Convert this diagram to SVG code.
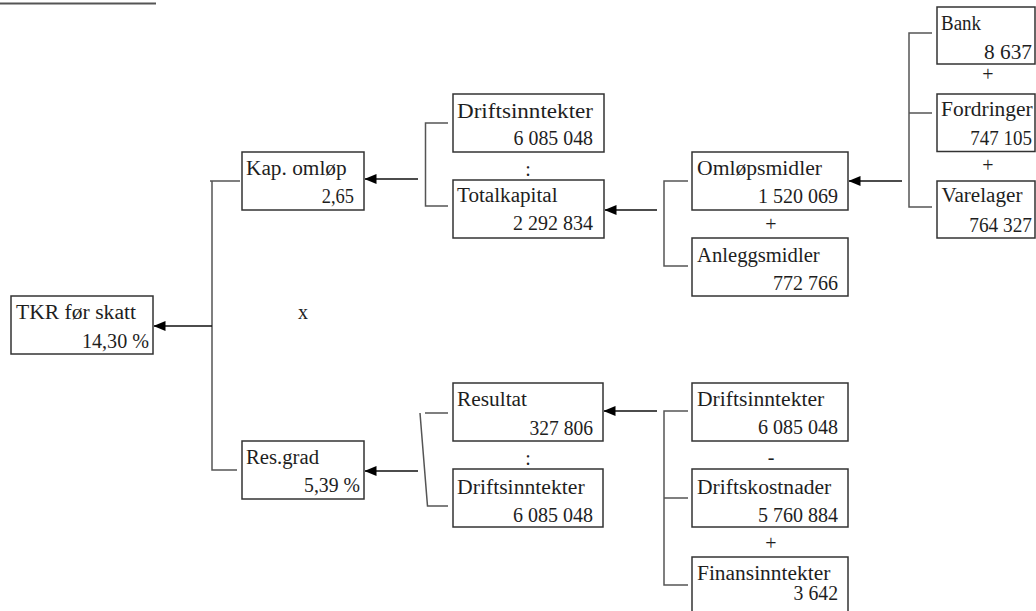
<svg xmlns="http://www.w3.org/2000/svg" width="1036" height="611" viewBox="0 0 1036 611">
<style>
.box{fill:#fff;stroke:#333;stroke-width:1.5}
.t{font-family:"Liberation Serif","DejaVu Serif","Times New Roman",serif;font-size:20px;fill:#1e1e1e}
.e{text-anchor:end}
.op{font-family:"Liberation Serif","DejaVu Serif","Times New Roman",serif;font-size:20px;fill:#1e1e1e;text-anchor:middle}
.br{fill:none;stroke:#555;stroke-width:1.5}
.ar{fill:none;stroke:#111;stroke-width:1.3;marker-end:url(#ah)}
</style>
<defs>
<marker id="ah" viewBox="0 0 12 10" refX="11.5" refY="5" markerWidth="12" markerHeight="10" markerUnits="userSpaceOnUse" orient="auto">
<path d="M0,0 L12,5 L0,10 Z" fill="#000"/>
</marker>
</defs>
<rect width="1036" height="611" fill="#fff"/>
<line x1="0" y1="3.5" x2="156" y2="3.5" stroke="#555" stroke-width="2"/>

<g id="connectors">
<path class="br" d="M210,181 H240 M212,181 V470 H237"/>
<line class="ar" x1="212" y1="326" x2="154" y2="326"/>
<path class="br" d="M448,123 H425.5 V206 H448"/>
<line class="ar" x1="418" y1="179" x2="365" y2="179"/>
<path class="br" d="M688,181 H664 V266 H688"/>
<line class="ar" x1="657" y1="210" x2="605" y2="210"/>
<path class="br" d="M932,33 H909 V207 H932 M909,113 H932"/>
<line class="ar" x1="902" y1="181" x2="849" y2="181"/>
<path class="br" d="M420,413 L427.5,506 H448 M425,413 H448"/>
<line class="ar" x1="418" y1="471" x2="365" y2="471"/>
<path class="br" d="M688,411 H664 V585 H688 M664,498 H688"/>
<line class="ar" x1="657" y1="411" x2="604" y2="411"/>
</g>

<g id="n-tkr"><rect class="box" x="11" y="296" width="142" height="58"/>
<text class="t" x="16" y="319" textLength="120" lengthAdjust="spacingAndGlyphs">TKR før skatt</text>
<text class="t e" x="149" y="348" textLength="67" lengthAdjust="spacingAndGlyphs">14,30 %</text></g>

<g id="n-kap"><rect class="box" x="242" y="152" width="122" height="58"/>
<text class="t" x="246" y="175" textLength="100.7" lengthAdjust="spacingAndGlyphs">Kap. omløp</text>
<text class="t e" x="354" y="203" textLength="32.3" lengthAdjust="spacingAndGlyphs">2,65</text></g>

<g id="n-drift1"><rect class="box" x="453" y="94" width="151" height="58"/>
<text class="t" x="457" y="118" textLength="136" lengthAdjust="spacingAndGlyphs">Driftsinntekter</text>
<text class="t e" x="593" y="145" textLength="79.4" lengthAdjust="spacingAndGlyphs">6 085 048</text></g>

<g id="n-total"><rect class="box" x="453" y="180" width="151" height="58"/>
<text class="t" x="457" y="202" textLength="100.6" lengthAdjust="spacingAndGlyphs">Totalkapital</text>
<text class="t e" x="593" y="230" textLength="80" lengthAdjust="spacingAndGlyphs">2 292 834</text></g>

<g id="n-omlop"><rect class="box" x="692" y="152" width="156" height="58"/>
<text class="t" x="697" y="175" textLength="125" lengthAdjust="spacingAndGlyphs">Omløpsmidler</text>
<text class="t e" x="838" y="203" textLength="80" lengthAdjust="spacingAndGlyphs">1 520 069</text></g>

<g id="n-anlegg"><rect class="box" x="692" y="238" width="156" height="58"/>
<text class="t" x="697" y="262" textLength="122.7" lengthAdjust="spacingAndGlyphs">Anleggsmidler</text>
<text class="t e" x="838" y="289.5" textLength="65" lengthAdjust="spacingAndGlyphs">772 766</text></g>

<g id="n-bank"><rect class="box" x="937" y="7" width="98" height="57"/>
<text class="t" x="941" y="29.5" textLength="40" lengthAdjust="spacingAndGlyphs">Bank</text>
<text class="t e" x="1032" y="58.5" textLength="48" lengthAdjust="spacingAndGlyphs">8 637</text></g>

<g id="n-fordr"><rect class="box" x="937" y="94" width="98" height="57.5"/>
<text class="t" x="941" y="116" textLength="91.7" lengthAdjust="spacingAndGlyphs">Fordringer</text>
<text class="t e" x="1032" y="145" textLength="61.7" lengthAdjust="spacingAndGlyphs">747 105</text></g>

<g id="n-vare"><rect class="box" x="937" y="181" width="98" height="57"/>
<text class="t" x="941.5" y="202" textLength="81" lengthAdjust="spacingAndGlyphs">Varelager</text>
<text class="t e" x="1032" y="231.5" textLength="62.7" lengthAdjust="spacingAndGlyphs">764 327</text></g>

<g id="n-resgrad"><rect class="box" x="242" y="441" width="122" height="58"/>
<text class="t" x="246" y="463.5" textLength="73" lengthAdjust="spacingAndGlyphs">Res.grad</text>
<text class="t e" x="360" y="492" textLength="56" lengthAdjust="spacingAndGlyphs">5,39 %</text></g>

<g id="n-resultat"><rect class="box" x="453" y="383" width="150" height="58"/>
<text class="t" x="457" y="406" textLength="70" lengthAdjust="spacingAndGlyphs">Resultat</text>
<text class="t e" x="593" y="434.5" textLength="63.4" lengthAdjust="spacingAndGlyphs">327 806</text></g>

<g id="n-drift2"><rect class="box" x="453" y="469" width="150" height="58"/>
<text class="t" x="457" y="493.5" textLength="127.7" lengthAdjust="spacingAndGlyphs">Driftsinntekter</text>
<text class="t e" x="593" y="522" textLength="80" lengthAdjust="spacingAndGlyphs">6 085 048</text></g>

<g id="n-drift3"><rect class="box" x="692" y="383" width="156" height="58"/>
<text class="t" x="697" y="406" textLength="127.3" lengthAdjust="spacingAndGlyphs">Driftsinntekter</text>
<text class="t e" x="838" y="434" textLength="80" lengthAdjust="spacingAndGlyphs">6 085 048</text></g>

<g id="n-kost"><rect class="box" x="692" y="469" width="156" height="58"/>
<text class="t" x="697" y="493.5" textLength="134.3" lengthAdjust="spacingAndGlyphs">Driftskostnader</text>
<text class="t e" x="838" y="522" textLength="80" lengthAdjust="spacingAndGlyphs">5 760 884</text></g>

<g id="n-finans"><rect class="box" x="692" y="557" width="156" height="60"/>
<text class="t" x="697" y="580" textLength="133.3" lengthAdjust="spacingAndGlyphs">Finansinntekter</text>
<text class="t e" x="838" y="600" textLength="44.4" lengthAdjust="spacingAndGlyphs">3 642</text></g>

<g id="operators">
<text class="op" x="303" y="319">x</text>
<text class="op" x="528" y="176">:</text>
<text class="op" x="771" y="231">+</text>
<text class="op" x="988" y="81">+</text>
<text class="op" x="988" y="172">+</text>
<text class="op" x="528" y="465">:</text>
<text class="op" x="771" y="464">-</text>
<text class="op" x="771" y="550">+</text>
</g>
</svg>
